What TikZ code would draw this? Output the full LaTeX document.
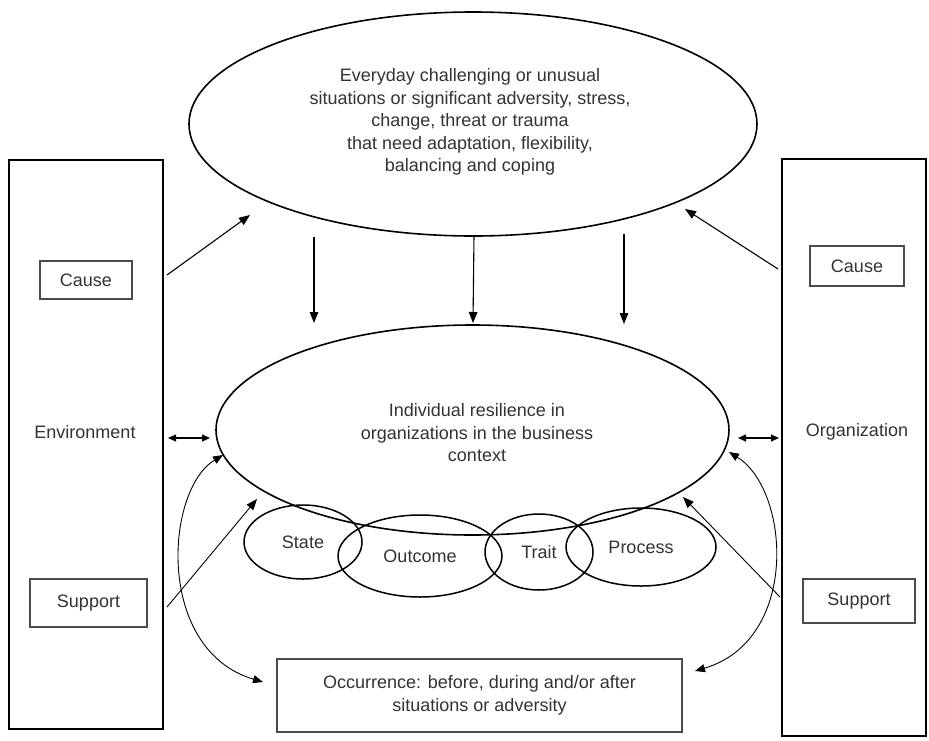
\documentclass[tikz,border=0pt]{standalone}
\usepackage{fontspec}
\setmainfont{Liberation Sans}
\usetikzlibrary{shapes.geometric,arrows.meta}
\definecolor{txt}{HTML}{333333}
\definecolor{boxline}{HTML}{4A4A4A}
\begin{document}
\begin{tikzpicture}[x=1pt,y=-1pt,
  every node/.style={font=\fontsize{18}{22.5}\selectfont, text=txt, inner sep=0pt, align=center},
  bigframe/.style={draw=black, line width=1.7pt, rectangle},
  smallbox/.style={draw=boxline, line width=1.1pt, rectangle},
  bigoval/.style={draw=black, line width=1.6pt, ellipse},
  smalloval/.style={draw=black, line width=1.5pt, ellipse},
  arr/.style={line width=1.1pt, -{Triangle[length=11pt,width=8.5pt]}},
  darr/.style={line width=1.1pt, {Triangle[length=8pt,width=7pt]}-{Triangle[length=8pt,width=7pt]}},
  carr/.style={line width=0.9pt, {Triangle[length=10pt,width=8pt]}-{Triangle[length=10pt,width=8pt]}}
]
\useasboundingbox (0,0) rectangle (929,740);
\fill[white] (0,0) rectangle (929,740);

% frames
\node[bigframe, minimum width=154pt, minimum height=569pt] (env) at (86,444.5) {};
\node[bigframe, minimum width=144pt, minimum height=577pt] (org) at (854,447.5) {};
\node at (85,432) (envt) {Environment};
\node at (857,432) (orgt) {Organization};

\node[smallbox, minimum width=92pt, minimum height=38pt] (causeL) at (86,280) {Cause};
\node[smallbox, minimum width=94pt, minimum height=40pt] (causeR) at (857,266) {Cause};
\node[smallbox, minimum width=117pt, minimum height=48pt] (suppL) at (88.5,603) {Support};
\node[smallbox, minimum width=112pt, minimum height=44pt] (suppR) at (859,601) {Support};

% top ellipse
\node[bigoval, minimum width=568pt, minimum height=224pt] (top) at (473,124) {};
\node (topt) at (470,122) {Everyday challenging or unusual\\situations or significant adversity, stress,\\change, threat or trauma\\that need adaptation, flexibility,\\balancing and coping};

% middle ellipse
\node[bigoval, minimum width=513pt, minimum height=210pt] (mid) at (472.5,430) {};
\node (midt) at (477,433) {Individual resilience in\\organizations in the business\\context};

% small ellipses
\node[smalloval, minimum width=118pt, minimum height=74pt] (state) at (303,542) {State};
\node[smalloval, minimum width=164pt, minimum height=82pt] (outcome) at (420,556) {Outcome};
\node[smalloval, minimum width=108pt, minimum height=76pt] (trait) at (539,552) {Trait};
\node[smalloval, minimum width=150pt, minimum height=78pt] (process) at (641,547) {Process};

% occurrence box
\node[smallbox, minimum width=405pt, minimum height=73pt] (occ) at (479.5,695.5) {Occurrence: before, during and/or after\\situations or adversity};

% connector end points
\coordinate (a1s) at (167,275); \coordinate (a1e) at (250,215);
\coordinate (a2s) at (778,269); \coordinate (a2e) at (685,209);
\coordinate (d1s) at (314,237); \coordinate (d1e) at (314,323);
\coordinate (d2s) at (474,235); \coordinate (d2e) at (473,323);
\coordinate (d3s) at (624,234); \coordinate (d3e) at (624,324);
\coordinate (h1s) at (168,438); \coordinate (h1e) at (210,438);
\coordinate (h2s) at (738,438); \coordinate (h2e) at (779,438);
\coordinate (s1s) at (167,607); \coordinate (s1e) at (257,499);
\coordinate (s2s) at (780,597); \coordinate (s2e) at (683,497);
\coordinate (c1a) at (223,455); \coordinate (c1b) at (263,682);
\coordinate (c2a) at (729,452); \coordinate (c2b) at (695,671);

\draw[arr] (a1s) -- (a1e);
\draw[arr] (a2s) -- (a2e);
\draw[arr] (d1s) -- (d1e);
\draw[arr] (d2s) -- (d2e);
\draw[arr] (d3s) -- (d3e);
\draw[darr] (h1s) -- (h1e);
\draw[darr] (h2s) -- (h2e);
\draw[arr, line width=0.9pt] (s1s) -- (s1e);
\draw[arr, line width=0.9pt] (s2s) -- (s2e);
\draw[carr] (c1a) .. controls (165,490) and (155,650) .. (c1b);
\draw[carr] (c2a) .. controls (790,490) and (800,640) .. (c2b);
\end{tikzpicture}
\end{document}
